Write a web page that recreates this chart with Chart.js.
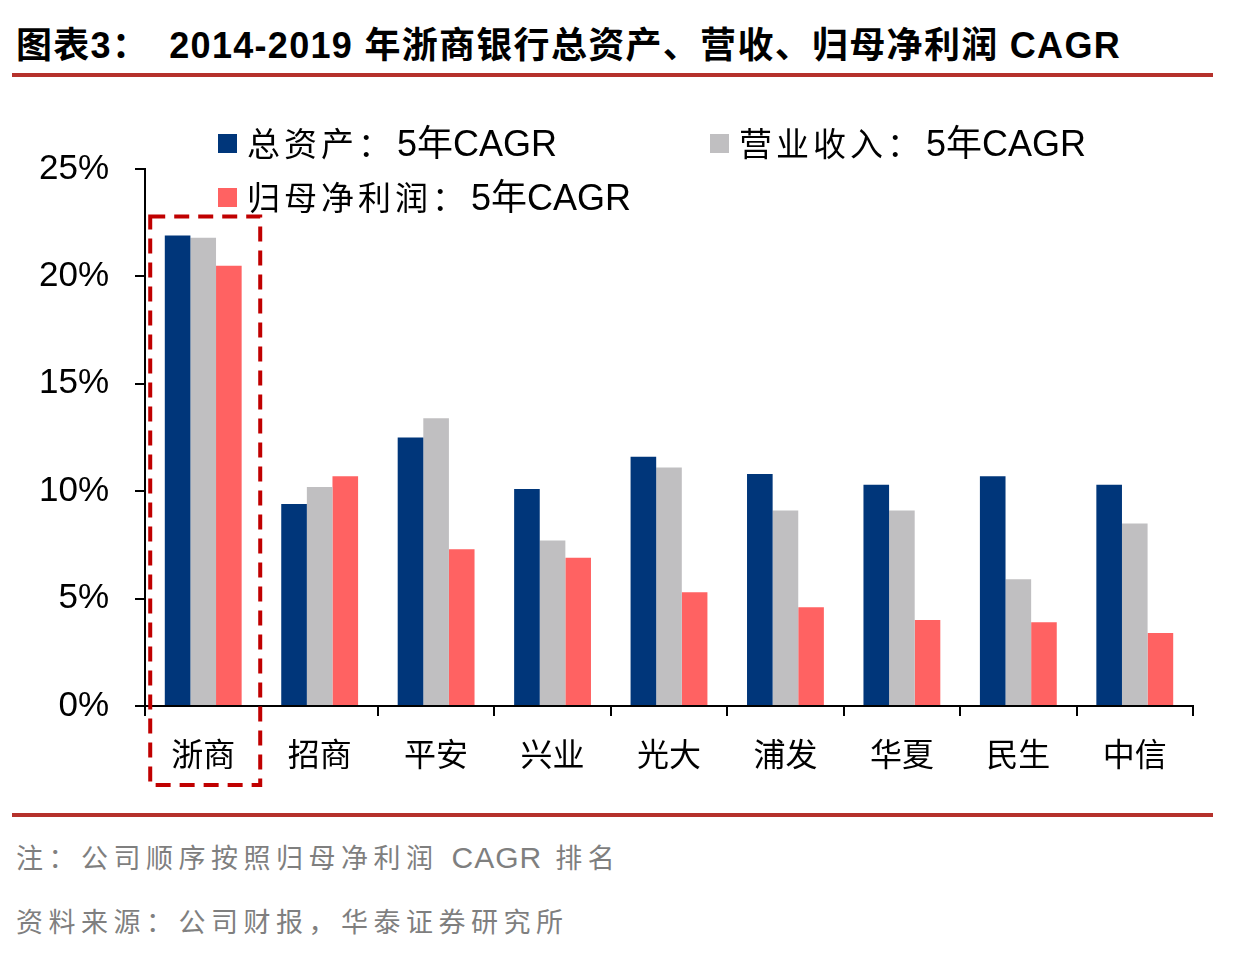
<!DOCTYPE html>
<html>
<head>
<meta charset="utf-8">
<script src="https://cdn.jsdelivr.net/npm/chart.js@4.4.1/dist/chart.umd.min.js"></script>
<style>
  html, body { margin: 0; padding: 0; background: #fff; }
  body { width: 1238px; height: 970px; position: relative; overflow: hidden;
         font-family: "Liberation Sans", "Noto Sans CJK SC", sans-serif; }
  .title { position: absolute; left: 16px; top: 24px; font-size: 36px; font-weight: bold;
           color: #000; white-space: pre; letter-spacing: 1.3px; line-height: 44px; }
  .title .lead { margin-right: 20px; }
  .rule { position: absolute; left: 12px; width: 1201px; height: 4px; background: #B5312B; }
  .note { position: absolute; left: 16px; font-size: 27px; color: #7f7f7f; letter-spacing: 5.5px;
          white-space: pre; line-height: 36px; }
  .note .lat { font-size: 30px; letter-spacing: 1px; }
  #wrap { position: absolute; left: 0; top: 100px; width: 1238px; height: 710px; }
</style>
</head>
<body>
<div class="title"><span class="lead">图表3：</span>2014-2019 年浙商银行总资产、营收、归母净利润 CAGR</div>
<div class="rule" style="top:73px"></div>
<div id="wrap"><canvas id="chart"></canvas></div>
<div class="rule" style="top:813px"></div>
<div class="note" style="top:840px">注：公司顺序按照归母净利润 <span class="lat">CAGR</span> 排名</div>
<div class="note" style="top:905px">资料来源：公司财报，华泰证券研究所</div>

<script>
// 5-year CAGR by bank, 2014-2019
const banks = ["浙商", "招商", "平安", "兴业", "光大", "浦发", "华夏", "民生", "中信"];
const totalAssets = [21.9, 9.4, 12.5, 10.1, 11.6, 10.8, 10.3, 10.7, 10.3];
const revenue = [21.8, 10.2, 13.4, 7.7, 11.1, 9.1, 9.1, 5.9, 8.5];
const netProfit = [20.5, 10.7, 7.3, 6.9, 5.3, 4.6, 4.0, 3.9, 3.4];
const seriesNames = ["总资产：5年CAGR", "营业收入：5年CAGR", "归母净利润：5年CAGR"];
const yTicks = [0, 5, 10, 15, 20, 25];

const colors = ["#00367A", "#C0BFC1", "#FF6262"];

// legend laid out as in the report: two on the first row, one below
const legendSpots = [{ x: 218, y: 43 }, { x: 710, y: 43 }, { x: 218, y: 97 }];
const legendPlugin = {
  id: "reportLegend",
  afterDraw(chart) {
    const ctx = chart.ctx;
    ctx.save();
    ctx.textBaseline = "alphabetic";
    chart.data.datasets.forEach((ds, i) => {
      const p = legendSpots[i];
      ctx.fillStyle = ds.backgroundColor;
      ctx.fillRect(p.x, p.y - 9, 19, 19);
      ctx.fillStyle = "#000";
      // Chinese prefix is spaced out, "5年CAGR" is a touch larger
      const cut = ds.label.indexOf("：") + 1;
      const head = ds.label.slice(0, cut), tail = ds.label.slice(cut);
      const base = p.y + 13;
      ctx.font = '33px "Noto Sans CJK SC"';
      if ("letterSpacing" in ctx) ctx.letterSpacing = "4px";
      ctx.fillText(head, p.x + 29, base);
      const w = ctx.measureText(head).width;
      if ("letterSpacing" in ctx) ctx.letterSpacing = "0px";
      ctx.font = '36px "Liberation Sans", "Noto Sans CJK SC"';
      ctx.fillText(tail, p.x + 29 + w + 2, base);
    });
    ctx.restore();
  },
};

// dashed red frame round the first bank
const highlightPlugin = {
  id: "highlight",
  afterDraw(chart) {
    const x = chart.scales.x, y = chart.scales.y;
    const cx = x.getPixelForValue(0);
    const top = y.getPixelForValue(Math.max(totalAssets[0], revenue[0], netProfit[0])) - 19;
    const ctx = chart.ctx;
    ctx.save();
    ctx.strokeStyle = "#C00000";
    ctx.lineWidth = 4;
    ctx.setLineDash([15, 9]);
    ctx.strokeRect(cx - 53, top, 110, chart.chartArea.bottom + 79 - top);
    ctx.restore();
  },
};

new Chart(document.getElementById("chart"), {
  type: "bar",
  data: {
    labels: banks,
    datasets: [
      { label: seriesNames[0], data: totalAssets, backgroundColor: colors[0] },
      { label: seriesNames[1], data: revenue, backgroundColor: colors[1] },
      { label: seriesNames[2], data: netProfit, backgroundColor: colors[2] },
    ],
  },
  options: {
    responsive: true,
    maintainAspectRatio: false,
    animation: false,
    layout: { padding: { top: 69, right: 45, left: 0, bottom: 0 } },
    datasets: { bar: { categoryPercentage: 0.66, barPercentage: 1.0 } },
    plugins: { legend: { display: false }, tooltip: { enabled: false } },
    scales: {
      x: {
        afterFit(scale) { scale.height = 104; },
        grid: { display: true, offset: true, drawOnChartArea: false, drawTicks: true,
                tickLength: 10, color: "#000", lineWidth: 2 },
        border: { display: true, color: "#000", width: 2 },
        ticks: { color: "#000", padding: 19,
                 font: { family: '"Noto Sans CJK SC"', size: 32 } },
      },
      y: {
        min: 0,
        max: 25,
        afterFit(scale) { scale.width = 145; },
        afterBuildTicks(scale) { scale.ticks = yTicks.map(v => ({ value: v })); },
        grid: { display: true, drawOnChartArea: false, drawTicks: true,
                tickLength: 10, color: "#000", lineWidth: 2 },
        border: { display: true, color: "#000", width: 2 },
        ticks: { color: "#000", padding: 26, callback: v => v + "%",
                 font: { family: '"Liberation Sans"', size: 35 } },
      },
    },
  },
  plugins: [legendPlugin, highlightPlugin],
});
</script>
</body>
</html>
